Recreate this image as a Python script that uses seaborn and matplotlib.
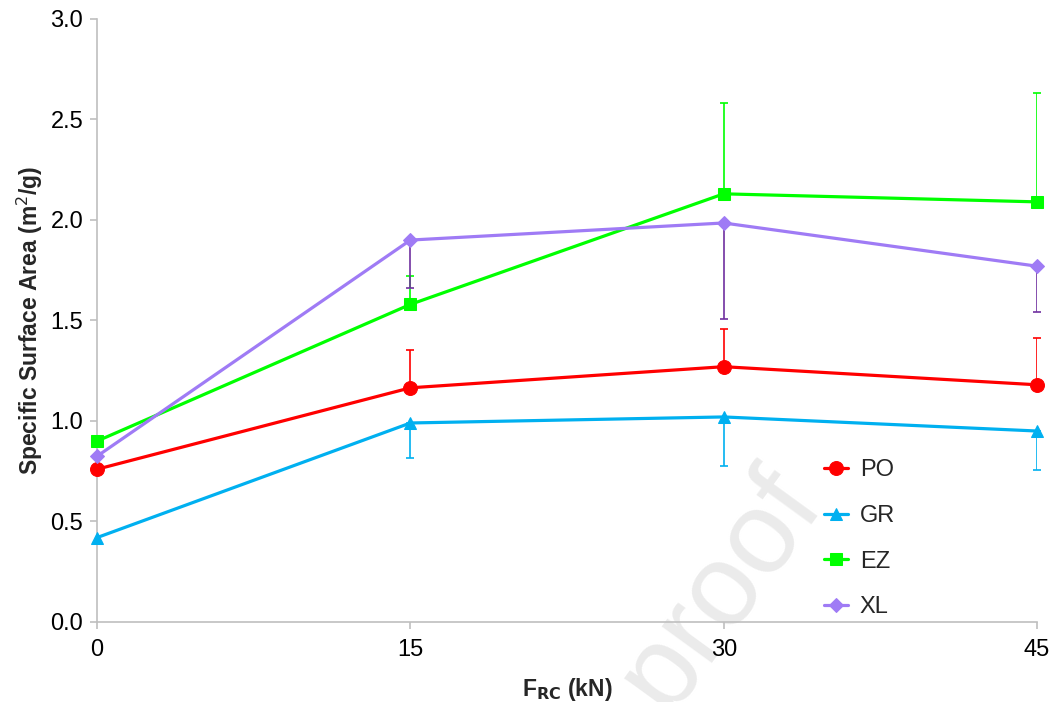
import numpy as np
import pandas as pd
import seaborn as sns
import matplotlib
matplotlib.use('agg')
import matplotlib.pyplot as plt

# force levels (kN)
force = [0, 15, 30, 45]
series = ['PO', 'GR', 'EZ', 'XL']

po = [0.76, 1.165, 1.27, 1.18]
gr = [0.42, 0.99, 1.02, 0.95]
ez = [0.90, 1.58, 2.13, 2.09]
xl = [0.825, 1.90, 1.985, 1.77]

# one-sided error bars (up for PO/EZ, down for GR/XL)
po_err = [0.0, 0.19, 0.19, 0.235]
gr_err = [0.0, 0.175, 0.245, 0.195]
ez_err = [0.0, 0.14, 0.45, 0.54]
xl_err = [0.0, 0.24, 0.48, 0.23]

values = {'PO': po, 'GR': gr, 'EZ': ez, 'XL': xl}
errs = {'PO': po_err, 'GR': gr_err, 'EZ': ez_err, 'XL': xl_err}
err_dir = {'PO': 'up', 'GR': 'down', 'EZ': 'up', 'XL': 'down'}

colors = {'PO': '#FF0000', 'GR': '#00B0F0', 'EZ': '#00FF00', 'XL': '#9F7BF5'}
err_colors = {'PO': '#FF0000', 'GR': '#00B0F0', 'EZ': '#00FF00', 'XL': '#7030A0'}
markers = {'PO': 'o', 'GR': '^', 'EZ': 's', 'XL': 'D'}
msizes = {'PO': 10, 'GR': 9, 'EZ': 9, 'XL': 7}

rows = []
for s in series:
    for f, v in zip(force, values[s]):
        rows.append({'force': f, 'ssa': v, 'series': s})
df = pd.DataFrame(rows)

sns.set_style("white")
plt.rcParams['font.family'] = ['Liberation Sans', 'DejaVu Sans']

fig = plt.figure(figsize=(10.56, 7.02), dpi=100)
ax = fig.add_axes([0.092, 0.114, 0.890, 0.859])

# faint watermark behind everything
fig.text(720 / 1056, 1 - 590 / 702, 'proof', fontsize=84, color='#EBEBEB', rotation=54,
         ha='center', va='center', zorder=-1)
ax.patch.set_alpha(0)

# error bars first so lines sit on top
for s in series:
    e = np.array(errs[s])
    if err_dir[s] == 'up':
        yerr = [np.zeros_like(e), e]
    else:
        yerr = [e, np.zeros_like(e)]
    mask = e > 0
    ax.errorbar(np.array(force)[mask], np.array(values[s])[mask],
                yerr=[yerr[0][mask], yerr[1][mask]], fmt='none',
                ecolor=err_colors[s], elinewidth=1.2, capsize=3, capthick=1.2, zorder=2)

for s in series:
    sub = df[df['series'] == s]
    sns.lineplot(data=sub, x='force', y='ssa', ax=ax, color=colors[s], lw=2.3,
                 marker=markers[s], markersize=msizes[s], markeredgecolor=colors[s],
                 label=s, zorder=3)

ax.set_xlim(0, 45)
ax.set_ylim(0, 3.0)
ax.set_xticks(force)
ax.set_yticks(np.arange(0, 3.01, 0.5))
ax.set_yticklabels([f'{t:.1f}' for t in np.arange(0, 3.01, 0.5)])

for side in ['top', 'right']:
    ax.spines[side].set_visible(False)
for side in ['left', 'bottom']:
    ax.spines[side].set_color('#BFBFBF')
    ax.spines[side].set_linewidth(1.2)
ax.tick_params(axis='both', which='both', direction='out', length=5, width=1.2,
               color='#BFBFBF', labelsize=17, labelcolor='black', bottom=True, left=True)
ax.tick_params(axis='x', pad=7)
ax.tick_params(axis='y', pad=5)

ax.set_xlabel(r'F$_{\mathbf{RC}}$ (kN)', fontsize=16.5, fontweight='bold', labelpad=11)
ax.set_ylabel('Specific Surface Area (m$^{2}$/g)', fontsize=16.5, fontweight='bold', labelpad=4)

leg = ax.legend(loc='upper left', bbox_to_anchor=(815 / 1056, 1 - 450 / 702),
                bbox_transform=fig.transFigure, borderaxespad=0, frameon=False,
                fontsize=17, labelspacing=1.0, handlelength=1.0, handletextpad=0.5)

for line in ax.lines:
    line.set_clip_on(False)

fig.savefig('out.png', dpi=100)
